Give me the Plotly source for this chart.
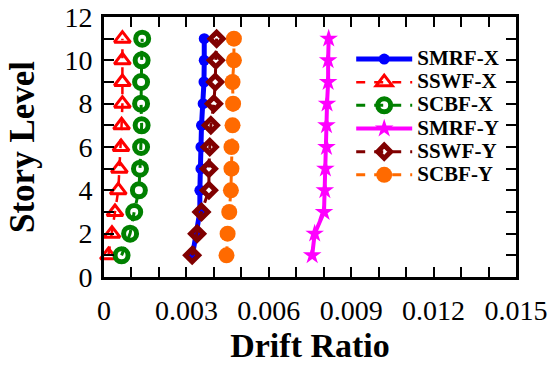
import plotly.graph_objects as go

stories = [1, 2, 3, 4, 5, 6, 7, 8, 9, 10, 11]

smrf_x = [0.00322, 0.00337, 0.00349, 0.00349, 0.00353, 0.00353, 0.00355, 0.00361, 0.00364, 0.00365, 0.00365]
sswf_x = [0.00016, 0.00029, 0.00040, 0.00052, 0.00056, 0.00062, 0.00064, 0.00067, 0.00067, 0.00067, 0.00067]
scbf_x = [0.00064, 0.00095, 0.00110, 0.00127, 0.00131, 0.00135, 0.00137, 0.00135, 0.00135, 0.00137, 0.00139]
smrf_y = [0.00758, 0.00767, 0.00801, 0.00804, 0.00806, 0.00810, 0.00810, 0.00812, 0.00816, 0.00816, 0.00818]
sswf_y = [0.00321, 0.00339, 0.00355, 0.00382, 0.00382, 0.00385, 0.00389, 0.00400, 0.00405, 0.00407, 0.00410]
scbf_y = [0.00446, 0.00450, 0.00456, 0.00462, 0.00464, 0.00464, 0.00468, 0.00470, 0.00468, 0.00473, 0.00473]

x_ticks = [0, 0.003, 0.006, 0.009, 0.012, 0.015]
x_tick_labels = ["0", "0.003", "0.006", "0.009", "0.012", "0.015"]
y_ticks = [0, 2, 4, 6, 8, 10, 12]

FONT = "Liberation Serif"

series = [
    ("SMRF-X", smrf_x, "#0000FF", "solid", 5, dict(symbol="circle", size=11, color="#0000FF")),
    ("SSWF-X", sswf_x, "#FF0000", "dash", 2.5, dict(symbol="triangle-up-open", size=14, color="#FF0000", line=dict(width=3, color="#FF0000"))),
    ("SCBF-X", scbf_x, "#008000", "dash", 3, dict(symbol="circle-open", size=13, color="#008000", line=dict(width=5, color="#008000"))),
    ("SMRF-Y", smrf_y, "#FF00FF", "solid", 4, dict(symbol="star", size=14, color="#FF00FF")),
    ("SSWF-Y", sswf_y, "#800000", "dash", 3, dict(symbol="diamond-open", size=10, color="#800000", line=dict(width=5, color="#800000"))),
    ("SCBF-Y", scbf_y, "#FF6A00", "dash", 3, dict(symbol="circle", size=16, color="#FF6A00")),
]

fig = go.Figure()
for name, xs, color, dash, lw, marker in series:
    fig.add_trace(go.Scatter(
        x=xs, y=stories, mode="lines+markers",
        name="<span style='font-size:21px'><b>%s</b></span>" % name,
        line=dict(color=color, width=lw, dash=dash),
        marker=marker,
        cliponaxis=False,
    ))

axis_common = dict(
    showline=True, linecolor="black", linewidth=3, mirror="allticks",
    ticks="inside", ticklen=10, tickwidth=2, tickcolor="black",
    showgrid=False, zeroline=False, automargin=False,
    tickfont=dict(family=FONT, size=28, color="black"),
)

fig.update_xaxes(
    range=[0, 0.015], tickvals=x_ticks, ticktext=x_tick_labels,
    minor=dict(dtick=0.001, ticks="inside", ticklen=10, tickwidth=2, tickcolor="black", showgrid=False),
    title=dict(text="<b>Drift Ratio</b>", font=dict(family=FONT, size=34, color="black"), standoff=9),
    ticklabelstandoff=6,
    **axis_common,
)
fig.update_yaxes(
    range=[0, 12], tickvals=y_ticks,
    minor=dict(dtick=1, ticks="inside", ticklen=10, tickwidth=2, tickcolor="black", showgrid=False),
    title=dict(text="<b>Story Level</b>", font=dict(family=FONT, size=35, color="black"), standoff=20),
    ticklabelstandoff=3,
    **axis_common,
)

fig.update_layout(
    width=550, height=368,
    margin=dict(l=104, r=34, t=17, b=91),
    plot_bgcolor="white", paper_bgcolor="white",
    showlegend=True,
    legend=dict(
        x=0.60, y=0.902, xanchor="left", yanchor="top",
        font=dict(family=FONT, size=15.5, color="black"),
        bgcolor="rgba(255,255,255,0)", borderwidth=0,
        itemwidth=56, tracegroupgap=0,
    ),
)

fig.write_html("out.html")
